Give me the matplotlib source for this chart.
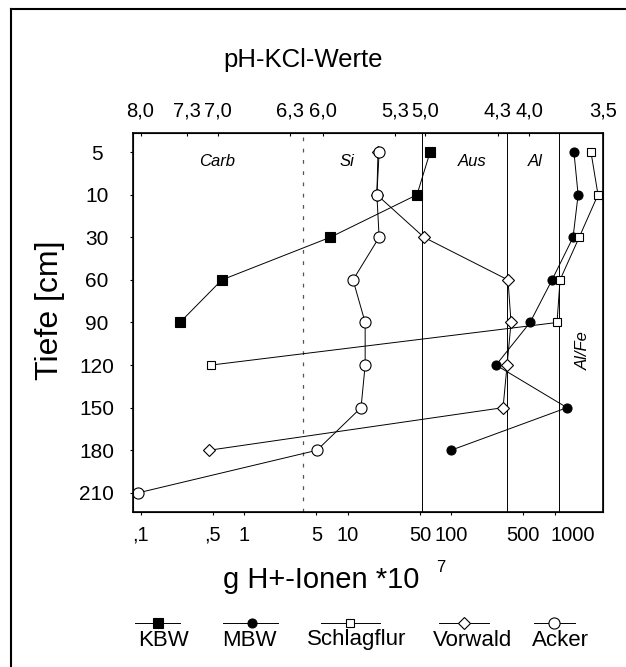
import matplotlib
matplotlib.use("Agg")
import matplotlib.pyplot as plt
from matplotlib.lines import Line2D
from matplotlib.transforms import ScaledTranslation

plt.rcParams['font.family'] = ['Liberation Sans', 'DejaVu Sans']

# Tiefenstufen (kategorial, gleichabstaendig)
tiefen = ["5", "10", "30", "60", "90", "120", "150", "180", "210"]

# g H+-Ionen *10^7 je Tiefe
kbw = [62.7, 46.9, 6.8, 0.61, 0.24]
mbw = [1540, 1690, 1510, 946, 580, 272, 1320, 100]
schlagflur = [2250, 2630, 1730, 1130, 1057, 0.48]
vorwald = [19.7, 19.2, 54.8, 355, 380, 348, 318, 0.46]
acker = [20.2, 19.2, 20.2, 11.3, 14.8, 14.8, 13.5, 5.07, 0.095]

namen = ["KBW", "MBW", "Schlagflur", "Vorwald", "Acker"]
reihen = [kbw, mbw, schlagflur, vorwald, acker]
marker = [('s', 'black', 7), ('o', 'black', 6.5), ('s', 'white', 6), ('D', 'white', 6), ('o', 'white', 8)]

x_ticks = [0.1, 0.5, 1, 5, 10, 50, 100, 500, 1000]
x_labels = [",1", ",5", "1", "5", "10", "50", "100", "500", "1000"]
ph_pos = [0.1, 0.28, 0.56, 2.8, 5.8, 29, 56, 284, 567, 2940]
ph_labels = ["8,0", "7,3", "7,0", "6,3", "6,0", "5,3", "5,0", "4,3", "4,0", "3,5"]

# Grenzen der Pufferbereiche
grenze_carb = 3.72
grenzen = [52.5, 350, 1100]
bereiche = [("Carb", 0.55), ("Si", 9.9), ("Aus", 160), ("Al", 649)]

fig = plt.figure(figsize=(6.26, 6.67), dpi=100)
ax = fig.add_axes([0.2125, 0.2324, 0.7508, 0.5682])

for werte, (m, fc, ms) in zip(reihen, marker):
    ax.plot(werte, range(len(werte)), color='black', lw=0.7, marker=m, ms=ms,
            mfc=fc, mec='black', mew=0.8, zorder=3)

ax.axvline(grenze_carb, color='#555555', lw=0.9, ls=(0, (3, 6)), zorder=1)
for g in grenzen:
    ax.axvline(g, color='black', lw=0.7, zorder=1)

ax.set_xscale('log')
ax.set_xlim(0.0846, 2941)
ax.set_ylim(8.45, -0.45)
ax.set_xticks(x_ticks)
ax.set_xticklabels(x_labels, fontsize=14.5)
ax.minorticks_off()
ax.set_yticks(range(len(tiefen)))
ax.set_yticklabels(tiefen, fontsize=15, ha='center')
ax.tick_params(axis='y', length=2, pad=24)
ax.tick_params(axis='x', length=2, pad=8)
for s in ax.spines.values():
    s.set_linewidth(1.2)
# "1000" steht im Original etwas rechts vom Strich
lab = ax.get_xticklabels()[-1]
lab.set_transform(lab.get_transform() + ScaledTranslation(0.18, 0, fig.dpi_scale_trans))

for txt, xv in bereiche:
    ax.text(xv, 0.23, txt, style='italic', fontsize=12, ha='center', va='center')
ax.text(1884, 4.65, "Al/Fe", style='italic', fontsize=12, rotation=90,
        ha='center', va='center')

ax2 = ax.twiny()
ax2.set_xscale('log')
ax2.set_xlim(ax.get_xlim())
ax2.set_xticks(ph_pos)
ax2.set_xticklabels(ph_labels, fontsize=14.5)
ax2.minorticks_off()
ax2.tick_params(axis='x', length=2, pad=9, direction='in')

fig.text(303 / 626, 1 - 60 / 667, "pH-KCl-Werte", fontsize=18.5, ha='center', va='center')
fig.text(50 / 626, 1 - 310 / 667, "Tiefe [cm]", fontsize=23, rotation=90, ha='center', va='center')
fig.text(321 / 626, 1 - 580 / 667, "g H+-Ionen *10", fontsize=21, ha='center', va='center')
fig.text(441 / 626, 1 - 568 / 667, "7", fontsize=12, ha='center', va='center')

# Legende: Symbol ueber dem Namen
leg_handle_x = [(135, 180, 158), (223, 278, 252), (321, 380, 350), (439, 489, 464), (534, 575, 554)]
leg_text_x = [164, 249, 357, 473, 560]
for name, (m, fc, ms), (x0, x1, xm), xt in zip(namen, marker, leg_handle_x, leg_text_x):
    fig.add_artist(Line2D([x0 / 626, x1 / 626], [1 - 623 / 667] * 2, color='black', lw=0.7,
                          transform=fig.transFigure))
    fig.add_artist(Line2D([xm / 626], [1 - 623 / 667], marker=m, ms=ms, mfc=fc, mec='black',
                          mew=0.8, transform=fig.transFigure))
    fig.text(xt / 626, 1 - 640 / 667, name, fontsize=16, ha='center', va='center')

# Rahmen
fig.add_artist(Line2D([11 / 626, 11 / 626], [0, 1 - 9 / 667], color='black', lw=1.5,
                      transform=fig.transFigure))
fig.add_artist(Line2D([11 / 626, 1], [1 - 9 / 667] * 2, color='black', lw=1.5,
                      transform=fig.transFigure))

fig.savefig("out.png", dpi=100)
